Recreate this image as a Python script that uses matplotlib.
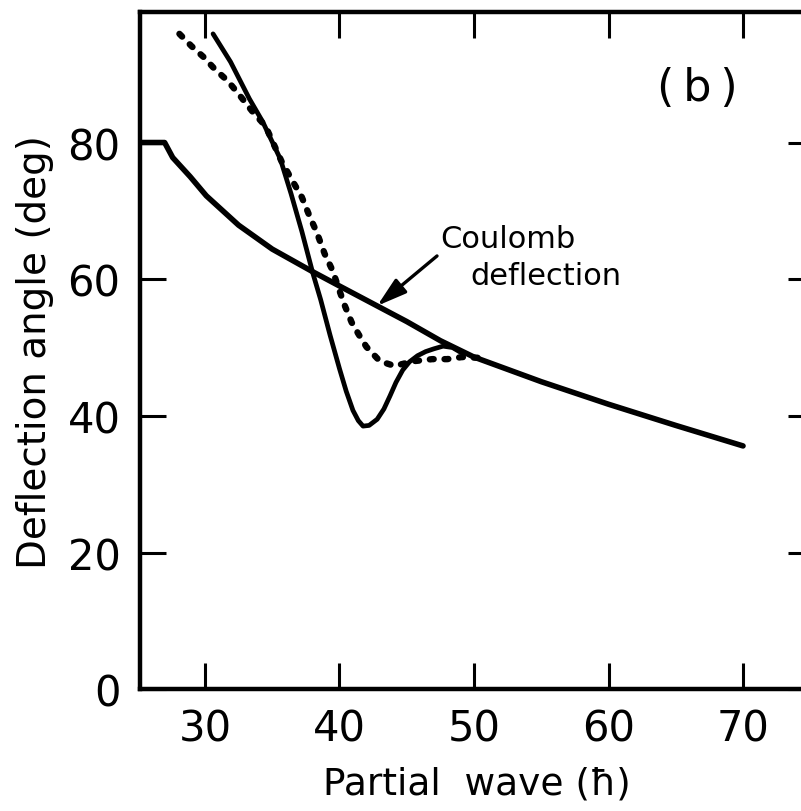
import matplotlib
matplotlib.use("Agg")
import matplotlib.pyplot as plt

# Coulomb deflection (solid, smooth)
coul_x = [25.2, 27.0, 27.6, 28.9, 30.1, 32.5, 35.0, 38.0, 40.0, 42.5, 45.0, 47.5, 50.0,
          55.0, 60.0, 65.0, 70.0]
coul_y = [80.0, 80.0, 77.8, 75.0, 72.2, 67.9, 64.4, 61.1, 59.0, 56.4, 53.8, 51.0, 48.6,
          45.0, 41.7, 38.6, 35.6]

# nuclear + Coulomb, solid
sol_x = [30.6, 31.9, 33.3, 34.3, 35.6, 36.4, 37.2, 38.0, 38.6, 39.3, 40.0, 40.5, 41.0,
         41.4, 41.75, 42.2, 42.8, 43.3, 43.75, 44.2, 44.7, 45.2, 45.8, 46.4, 47.0, 47.7,
         48.4, 49.0]
sol_y = [95.9, 91.8, 86.4, 83.0, 77.6, 72.5, 67.0, 61.0, 57.0, 51.8, 46.9, 43.6, 40.8,
         39.3, 38.5, 38.6, 39.5, 41.0, 42.9, 44.9, 46.7, 47.9, 48.8, 49.4, 49.8, 50.2,
         50.0, 49.3]

# dotted curve
dot_x = [28.1, 29.0, 29.9, 30.7, 31.7, 32.5, 33.5, 34.5, 35.7, 36.5, 37.2, 37.8, 38.3, 38.9,
         39.5, 40.0, 40.4, 40.9, 41.4, 42.0, 43.0, 44.1, 45.5, 46.9, 48.0, 49.1, 50.3]
dot_y = [95.9, 94.1, 92.5, 90.8, 89.0, 87.1, 84.6, 82.4, 77.2, 74.4, 72.0, 69.1, 66.9, 63.7,
         61.2, 58.3, 56.1, 53.7, 52.0, 50.1, 48.0, 47.3, 48.0, 48.3, 48.3, 48.6, 48.5]

xticks = [30, 40, 50, 60, 70]
yticks = [0, 20, 40, 60, 80]

plt.rcParams['font.family'] = ['DejaVu Sans']

fig = plt.figure(figsize=(8.01, 8.12), dpi=100)
ax = fig.add_axes([0.1748, 0.150, 0.8415, 0.834])

ax.plot(coul_x, coul_y, color='black', lw=4.0, solid_capstyle='round', solid_joinstyle='round')
ax.plot(sol_x, sol_y, color='black', lw=3.4, solid_capstyle='round', solid_joinstyle='round')
ax.plot(dot_x, dot_y, color='black', lw=4.6, dashes=(0.6, 1.7), dash_capstyle='round')

ax.set_xlim(25.17, 75.28)
ax.set_ylim(0, 99.1)
ax.set_xticks(xticks)
ax.set_yticks(yticks)

for s in ax.spines.values():
    s.set_linewidth(3.2)

ax.tick_params(direction='in', length=19, width=2.2, top=True, right=True,
               labelsize=30, pad=14)
ax.tick_params(axis='x', pad=13)

ax.set_xlabel('Partial  wave (ħ)', fontsize=27, labelpad=12)
ax.set_ylabel('Deflection angle (deg)', fontsize=28, labelpad=10)

ax.text(47.47, 64.7, 'Coulomb', fontsize=22, ha='left', va='baseline')
ax.text(49.7, 59.3, 'deflection', fontsize=22, ha='left', va='baseline')
ax.annotate('', xy=(42.8, 56.1), xytext=(47.25, 63.4),
            arrowprops=dict(arrowstyle='-|>,head_length=0.6,head_width=0.18', color='black',
                            lw=2.4, mutation_scale=30, shrinkA=0, shrinkB=0))
ax.text(66.6, 88.1, '(\u2009b\u2009)', fontsize=32, ha='center', va='center')

fig.savefig('out.png', dpi=100)
